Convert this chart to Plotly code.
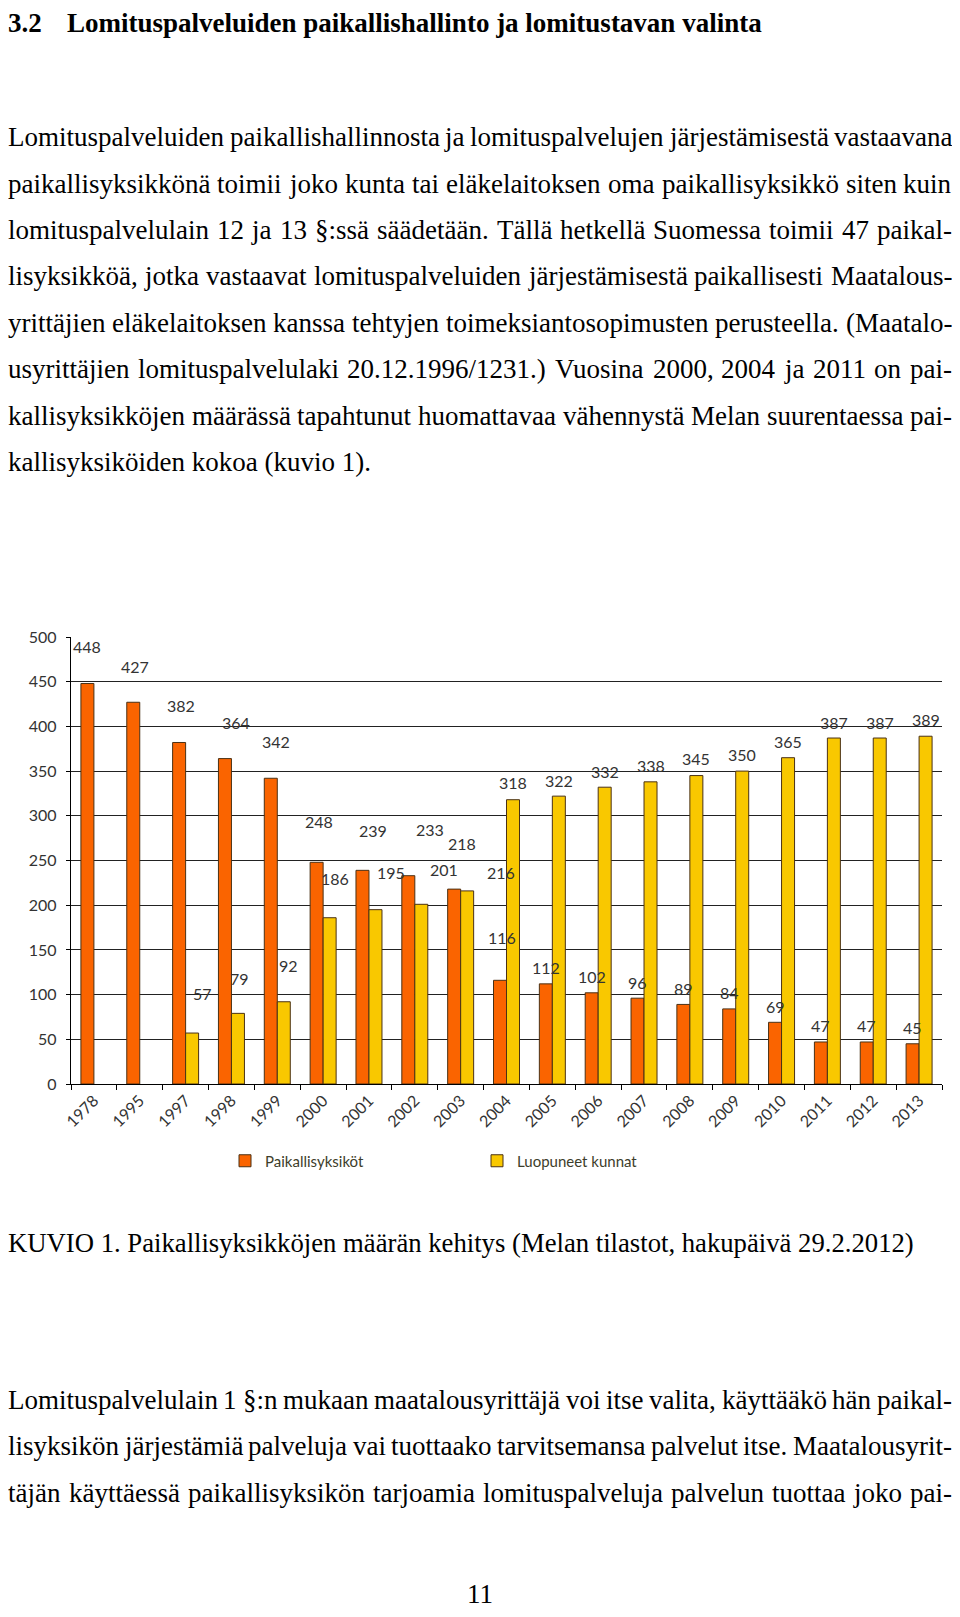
import plotly.graph_objects as go

# ---------------- data ----------------
years = ["1978", "1995", "1997", "1998", "1999", "2000", "2001", "2002", "2003", "2004",
         "2005", "2006", "2007", "2008", "2009", "2010", "2011", "2012", "2013"]
paikallisyksikot = [448, 427, 382, 364, 342, 248, 239, 233, 218, 116,
                    112, 102, 96, 89, 84, 69, 47, 47, 45]
luopuneet_kunnat = [None, None, 57, 79, 92, 186, 195, 201, 216, 318,
                    322, 332, 338, 345, 350, 365, 387, 387, 389]
y_ticks = [0, 50, 100, 150, 200, 250, 300, 350, 400, 450, 500]

heading_num = "3.2"
heading_text = "Lomituspalveluiden paikallishallinto ja lomitustavan valinta"
para1 = [
    "Lomituspalveluiden paikallishallinnosta ja lomituspalvelujen järjestämisestä vastaavana",
    "paikallisyksikkönä toimii joko kunta tai eläkelaitoksen oma paikallisyksikkö siten kuin",
    "lomituspalvelulain 12 ja 13 §:ssä säädetään. Tällä hetkellä Suomessa toimii 47 paikal-",
    "lisyksikköä, jotka vastaavat lomituspalveluiden järjestämisestä paikallisesti Maatalous-",
    "yrittäjien eläkelaitoksen kanssa tehtyjen toimeksiantosopimusten perusteella. (Maatalo-",
    "usyrittäjien lomituspalvelulaki 20.12.1996/1231.) Vuosina 2000, 2004 ja 2011 on pai-",
    "kallisyksikköjen määrässä tapahtunut huomattavaa vähennystä Melan suurentaessa pai-",
    "kallisyksiköiden kokoa (kuvio 1).",
]
caption = "KUVIO 1. Paikallisyksikköjen määrän kehitys (Melan tilastot, hakupäivä 29.2.2012)"
para2 = [
    "Lomituspalvelulain 1 §:n mukaan maatalousyrittäjä voi itse valita, käyttääkö hän paikal-",
    "lisyksikön järjestämiä palveluja vai tuottaako tarvitsemansa palvelut itse. Maatalousyrit-",
    "täjän käyttäessä paikallisyksikön tarjoamia lomituspalveluja palvelun tuottaa joko pai-",
]
page_number = "11"

# ---------------- style / layout ----------------
BODY_MARGIN = 8                      # default browser body margin around the plot div
PAGE_W, PAGE_H = 960, 1617
W, H = PAGE_W - 2 * BODY_MARGIN, PAGE_H - 2 * BODY_MARGIN
RIGHT_EDGE = PAGE_W - BODY_MARGIN    # last visible page pixel column
ORANGE = "#FA6400"
YELLOW = "#F9C800"
EDGE = "#4a3115"
LABEL_COLOR = "#333333"
CHART_FONT = "Lato"
BODY_FONT = "Liberation Serif"
BODY_SIZE = 27

plot_left, plot_right = 71, 942      # page pixels
plot_top, plot_bottom = 637, 1084
bargap = 0.433

# extra label displacement (pixels) as in the original figure
orange_dx = [0, 2, 2, 11, 5, 2, 11, 22, 8, 2, 0, 0, 0, 0, 0, 0, 0, 0, 0]
orange_dy = [37, 36, 37, 36, 37, 41, 40, 46, 46, 43, 16, 16, 16, 16, 16, 16, 16, 16, 16]
yellow_dx = [0, 0, 10, 2, 5, 5, 16, 23, 34, 0, 0, 0, 0, 0, 0, 0, 0, 0, 0]
yellow_dy = [0, 0, 40, 35, 36, 39, 37, 35, 18, 17, 16, 16, 16, 17, 17, 16, 16, 16, 17]

# Times / Liberation Serif advance widths (per 1000 em) for text justification
TW = dict(zip("abcdefghijklmnopqrstuvwxyz",
              [444, 500, 444, 500, 444, 333, 500, 500, 278, 278, 500, 278, 778,
               500, 500, 500, 500, 333, 389, 278, 500, 500, 722, 500, 500, 444]))
TW.update(dict(zip("ABCDEFGHIJKLMNOPQRSTUVWXYZ",
                   [722, 667, 667, 722, 611, 556, 722, 722, 333, 389, 722, 611, 889,
                    722, 722, 556, 722, 667, 556, 611, 722, 722, 944, 722, 722, 611])))
TW.update({"ä": 444, "ö": 500, "å": 444, "Ä": 722, "Ö": 722, " ": 250, ".": 250, ",": 250,
           ":": 278, ";": 278, "(": 333, ")": 333, "-": 333, "/": 278, "§": 500})
for d in "0123456789":
    TW[d] = 500


def text_w(s, size):
    return sum(TW.get(c, 500) for c in s) * size / 1000.0


def px(x):
    return (x - BODY_MARGIN) / W


def py(y):
    return 1 - (y - BODY_MARGIN) / H


xpos = list(range(len(years)))

fig = go.Figure()
fig.add_trace(go.Bar(x=xpos, y=paikallisyksikot, name="Paikallisyksiköt",
                     marker=dict(color=ORANGE, line=dict(color=EDGE, width=1))))
fig.add_trace(go.Bar(x=xpos, y=luopuneet_kunnat, name="Luopuneet kunnat",
                     marker=dict(color=YELLOW, line=dict(color=EDGE, width=1))))

cat_w = (plot_right - plot_left) / len(years)
bar_off = (1 - bargap) / 4 * cat_w
label_font = dict(family=CHART_FONT, size=16, color=LABEL_COLOR)

annotations = []
for i in xpos:
    v = paikallisyksikot[i]
    annotations.append(dict(x=i, y=v, xref="x", yref="y", text=str(v), showarrow=False,
                            xshift=-bar_off + orange_dx[i], yshift=orange_dy[i],
                            yanchor="middle", font=label_font))
    v2 = luopuneet_kunnat[i]
    if v2 is not None:
        annotations.append(dict(x=i, y=v2, xref="x", yref="y", text=str(v2), showarrow=False,
                                xshift=bar_off + yellow_dx[i], yshift=yellow_dy[i],
                                yanchor="middle", font=label_font))


def page_text(x, y, text, size=BODY_SIZE, anchor="left", vanchor="middle"):
    annotations.append(dict(x=px(x), y=py(y), xref="paper", yref="paper", text=text,
                            showarrow=False, xanchor=anchor, yanchor=vanchor,
                            borderpad=0, borderwidth=0,
                            font=dict(family=BODY_FONT, size=size, color="black")))


def justified_line(y, line, left=BODY_MARGIN, right=RIGHT_EDGE, size=BODY_SIZE):
    words = line.split(" ")
    widths = [text_w(w, size) for w in words]
    gap = (right - left - sum(widths)) / (len(words) - 1)
    x = left
    for k, (w, ww) in enumerate(zip(words, widths)):
        if k == 0:
            page_text(left, y, w, size, "left")
        elif k == len(words) - 1:
            page_text(right, y, w, size, "right")
        else:
            page_text(x + ww / 2, y, w, size, "center")
        x += ww + gap


page_text(BODY_MARGIN, BODY_MARGIN, "<b>" + heading_num + "</b>", size=27, vanchor="top")
page_text(67, BODY_MARGIN, "<b>" + heading_text + "</b>", size=27, vanchor="top")
line_h = 46.4
for k, line in enumerate(para1):
    y = 137.3 + k * line_h
    if k < len(para1) - 1:
        justified_line(y, line)
    else:
        page_text(BODY_MARGIN, y, line)
page_text(BODY_MARGIN, 1243, caption, size=26.7)
for k, line in enumerate(para2):
    justified_line(1400 + k * line_h, line)
page_text(480, PAGE_H - BODY_MARGIN, page_number, anchor="center", vanchor="bottom")

fig.update_layout(
    width=W, height=H, autosize=False,
    margin=dict(l=0, r=0, t=0, b=0, pad=0, autoexpand=False),
    paper_bgcolor="white", plot_bgcolor="white",
    barmode="group", bargap=bargap, bargroupgap=0,
    showlegend=True,
    legend=dict(orientation="h", x=px(225), y=py(1161), xanchor="left", yanchor="middle",
                entrywidth=207, entrywidthmode="pixels",
                font=dict(family=CHART_FONT, size=15, color="#3d3d2a"),
                bgcolor="rgba(0,0,0,0)"),
    xaxis=dict(domain=[px(plot_left), px(plot_right)], range=[-0.5, len(years) - 0.5],
               tickvals=xpos, ticktext=years, ticks="", automargin=False,
               showline=True, linecolor="black", linewidth=1.3,
               minor=dict(ticks="outside", tick0=-0.5, dtick=1, ticklen=5,
                          tickcolor="black", tickwidth=1.3, showgrid=False),
               tickangle=-45, showgrid=False, zeroline=False,
               tickfont=dict(family=CHART_FONT, size=16, color=LABEL_COLOR)),
    yaxis=dict(domain=[py(plot_bottom), py(plot_top)], range=[0, 500], tickvals=y_ticks,
               automargin=False,
               showline=True, linecolor="black", linewidth=1.3,
               ticks="outside", ticklen=4, tickcolor="black", tickwidth=1.3,
               showgrid=True, gridcolor="#222222", gridwidth=1.2, zeroline=False,
               ticklabelstandoff=6,
               tickfont=dict(family=CHART_FONT, size=16, color=LABEL_COLOR)),
    annotations=annotations,
)

fig.write_html("out.html")
